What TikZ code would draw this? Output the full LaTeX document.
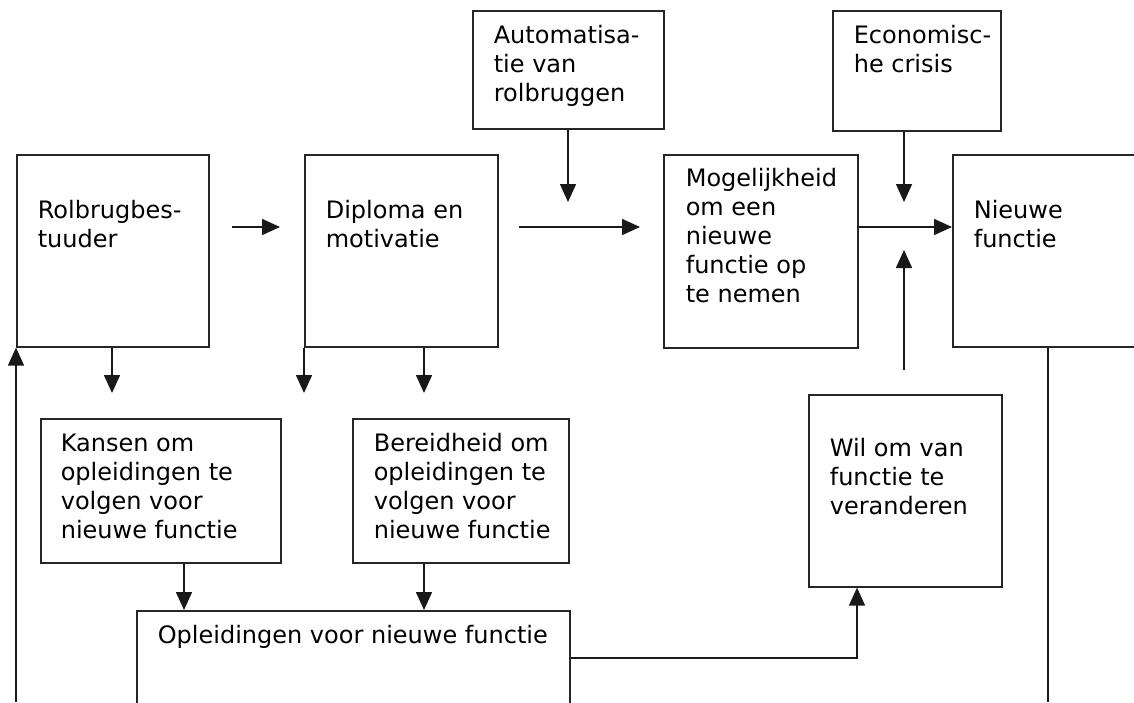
\documentclass[tikz,border=0pt]{standalone}
\usepackage{fontspec}
\setmainfont{DejaVu Sans}
\usetikzlibrary{arrows.meta,calc}
\begin{document}
\begin{tikzpicture}[x=1pt,y=-1pt,
  line width=1.6pt,
  box/.style={draw=black!85, line width=1.6pt, rectangle, inner sep=0pt, anchor=north west},
  % text block: the given point is the first baseline minus the strut height
  txt/.style={anchor=north west, align=left, inner sep=0pt,
    font=\fontsize{24}{29}\selectfont, text=black, execute at begin node=\strut},
  arr/.style={-{Triangle[length=18pt,width=16pt]}, draw=black!90},
  ln/.style={draw=black!90}]
\useasboundingbox (0,0) rectangle (1134,702);
\clip (0,0) rectangle (1134,702);

% boxes (top-left corner, size)
\node[box, minimum width=192, minimum height=192] (rol) at (16,154) {};
\node[box, minimum width=193, minimum height=192] (dip) at (304,154) {};
\node[box, minimum width=191, minimum height=118] (aut) at (472,10) {};
\node[box, minimum width=194, minimum height=193] (mog) at (663,154) {};
\node[box, minimum width=168, minimum height=120] (eco) at (832,10) {};
\node[box, minimum width=220, minimum height=192] (nie) at (952,154) {};
\node[box, minimum width=240, minimum height=144] (kan) at (40,418) {};
\node[box, minimum width=216, minimum height=144] (ber) at (352,418) {};
\node[box, minimum width=193, minimum height=192] (wil) at (808,394) {};
\node[box, minimum width=433, minimum height=140] (opl) at (136,610) {};

% box texts (first baseline - 20.3)
\node[txt] (trol) at (37,199.7) {Rolbrugbes-\\tuuder};
\node[txt] (tdip) at (325,199.7) {Diploma en\\motivatie};
\node[txt] (taut) at (493,24.7) {Automatisa-\\tie van\\rolbruggen};
\node[txt] (tmog) at (685,167.7) {Mogelijkheid\\om een\\nieuwe\\functie op\\te nemen};
\node[txt] (teco) at (853,24.7) {Economisc-\\he crisis};
\node[txt] (tnie) at (973,199.7) {Nieuwe\\functie};
\node[txt] (tkan) at (60,432.7) {Kansen om\\opleidingen te\\volgen voor\\nieuwe functie};
\node[txt] (tber) at (373,432.7) {Bereidheid om\\opleidingen te\\volgen voor\\nieuwe functie};
\node[txt] (twil) at (829,437.7) {Wil om van\\functie te\\veranderen};
\node[txt] (topl) at (157,622.7) {Opleidingen voor nieuwe functie};

% free ends of connectors
\coordinate (c1a) at (232,227);
\coordinate (c1b) at (280,227);
\coordinate (c2a) at (519,227);
\coordinate (c2b) at (640,227);
\coordinate (autend) at (568,202);
\coordinate (ecoend) at (904,202);
\coordinate (upa) at (904,370);
\coordinate (upb) at (904,250);
\coordinate (rolend) at (112,393);
\coordinate (dipend1) at (304,393);
\coordinate (dipend2) at (424,393);
\coordinate (low) at (16,702);
\coordinate (bot) at (1048,702);
\coordinate (bend) at (857,658);

% connectors
\draw[arr] (c1a) -- (c1b);
\draw[arr] (c2a) -- (c2b);
\draw[arr] (aut.south -| autend) -- (autend);
\draw[arr] (eco.south -| ecoend) -- (ecoend);
\draw[arr] (mog.east |- c1a) -- (nie.west |- c1a);
\draw[arr] (upa) -- (upb);
\draw[arr] (rol.south -| rolend) -- (rolend);
\draw[arr] (dip.south -| dipend1) -- (dipend1);
\draw[arr] (dip.south -| dipend2) -- (dipend2);
\draw[arr] (kan.south -| 184,0) -- (opl.north -| 184,0);
\draw[arr] (ber.south -| 424,0) -- (opl.north -| 424,0);
\draw[arr] (opl.east |- bend) -- (bend) -- (wil.south -| bend);
\draw[arr] (low) -- (rol.south -| low);
\draw[ln] (nie.south -| bot) -- (bot);
\end{tikzpicture}
\end{document}
